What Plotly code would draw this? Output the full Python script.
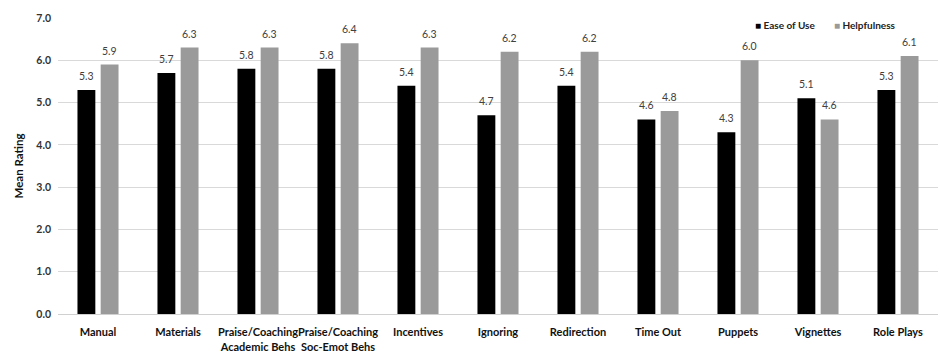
import plotly.graph_objects as go

categories = [
    "Manual", "Materials", "Praise/Coaching<br>Academic Behs",
    "Praise/Coaching<br>Soc-Emot Behs", "Incentives", "Ignoring",
    "Redirection", "Time Out", "Puppets", "Vignettes", "Role Plays",
]
ease_of_use = [5.3, 5.7, 5.8, 5.8, 5.4, 4.7, 5.4, 4.6, 4.3, 5.1, 5.3]
helpfulness = [5.9, 6.3, 6.3, 6.4, 6.3, 6.2, 6.2, 4.8, 6.0, 4.6, 6.1]
y_ticks = [0, 1, 2, 3, 4, 5, 6, 7]

FONT = "Lato"
BLACK = "#000000"
GREY = "#9a9a9a"

# bar geometry: each category is 80 px wide; two slots of ~23 px per group
BARGAP = 0.42
BARGROUPGAP = 0.23
CAT_PX = 880 / len(categories)
SLOT_PX = CAT_PX * (1 - BARGAP) / 2

fig = go.Figure()
series = [("Ease of Use", ease_of_use, BLACK), ("Helpfulness", helpfulness, GREY)]
for name, vals, color in series:
    fig.add_trace(go.Bar(
        x=categories, y=vals, name=name,
        marker=dict(color=color, line=dict(width=0)),
        showlegend=False,
    ))

# value labels above each bar
for i, (name, vals, color) in enumerate(series):
    shift = (i - 0.5) * SLOT_PX
    for cat, v in zip(categories, vals):
        fig.add_annotation(
            x=cat, y=v, xref="x", yref="y", text=f"{v:.1f}",
            showarrow=False, xshift=shift, yshift=6, yanchor="bottom",
            font=dict(family=FONT, size=10.5, color="#404040"),
        )

# legend: small square swatch right before each label
legend_items = [("Ease of Use", BLACK, 753), ("Helpfulness", GREY, 832)]
for name, color, px in legend_items:
    fig.add_annotation(
        x=(px - 58) / 880, y=(314 - 25) / 296, xref="paper", yref="paper",
        xanchor="left", yanchor="middle", showarrow=False,
        text=f"<span style='color:{color}'>■</span> {name}",
        font=dict(family=FONT, size=10, color="#222222", weight="bold"),
    )

fig.update_layout(
    width=940, height=354,
    margin=dict(l=58, r=2, t=18, b=40),
    paper_bgcolor="white", plot_bgcolor="white",
    barmode="group", bargap=BARGAP, bargroupgap=BARGROUPGAP,
    font=dict(family=FONT, color="#222222"),
    showlegend=False,
)
fig.update_xaxes(
    showgrid=False, showline=True, linecolor="#d0d0d0", linewidth=1,
    ticks="", ticklabelstandoff=8, tickangle=0, automargin=False,
    tickfont=dict(family=FONT, size=11, color="#111111", weight="bold"),
)
fig.update_yaxes(
    range=[0, 7], tickvals=y_ticks, tickformat=".1f",
    showgrid=True, gridcolor="#d9d9d9", gridwidth=1, zeroline=False,
    showline=False, ticks="", ticklabelstandoff=6, automargin=False,
    tickfont=dict(family=FONT, size=10.5, color="#333333", weight="bold"),
    title=dict(text="Mean Rating", standoff=10,
               font=dict(family=FONT, size=11.5, color="#111111", weight="bold")),
)

fig.write_html("out.html")
